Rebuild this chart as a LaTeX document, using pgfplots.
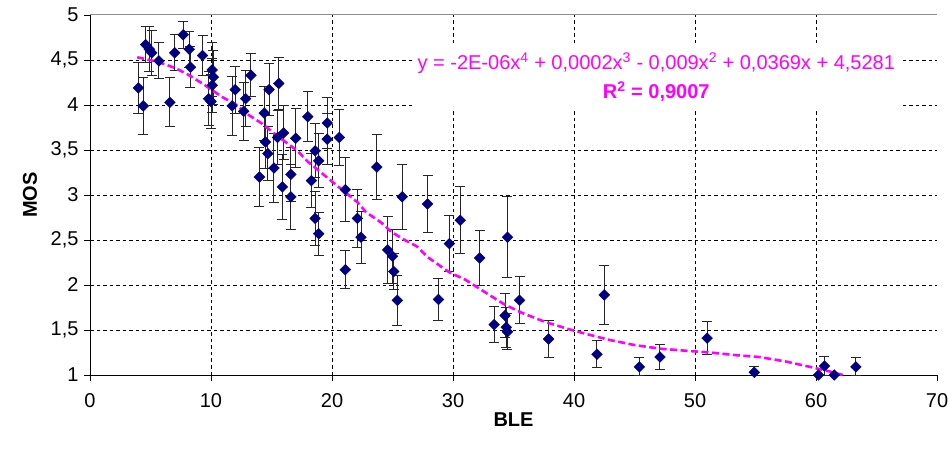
\documentclass[border=0pt]{standalone}
\usepackage{fontspec}
\setmainfont{Liberation Sans}
\usepackage{pgfplots}
\usepackage{pgfplotstable}
\pgfplotsset{compat=1.18}
\definecolor{navyx}{HTML}{000080}
\definecolor{magx}{HTML}{FF00FF}

\pgfplotstableread{
x y e
4.0 4.19 0.28
4.4 3.99 0.32
4.6 4.67 0.20
4.9 4.62 0.25
5.1 4.58 0.25
5.7 4.49 0.20
6.6 4.03 0.27
7.0 4.58 0.20
7.7 4.78 0.15
8.2 4.62 0.20
8.3 4.42 0.23
9.3 4.55 0.22
9.8 4.07 0.30
10.0 4.04 0.30
10.1 4.22 0.30
10.2 4.31 0.30
10.1 4.39 0.30
11.75 3.99 0.33
12.0 4.17 0.26
12.7 3.93 0.32
12.86 4.07 0.31
13.3 4.33 0.24
14.0 3.20 0.33
14.4 3.91 0.30
14.5 3.59 0.30
14.7 3.46 0.30
14.8 4.17 0.29
15.2 3.30 0.38
15.5 3.64 0.30
15.6 4.24 0.29
15.9 3.09 0.36
16.0 3.69 0.30
16.6 3.23 0.30
16.6 2.98 0.36
17.0 3.63 0.33
18.0 3.87 0.28
18.3 3.16 0.30
18.6 3.49 0.30
18.6 2.74 0.30
18.9 3.38 0.30
18.9 2.57 0.24
19.6 3.80 0.28
19.6 3.62 0.28
20.6 3.64 0.31
21.1 3.06 0.36
21.1 2.17 0.21
22.1 2.74 0.32
22.4 2.53 0.29
23.7 3.31 0.36
24.6 2.39 0.37
25.0 2.32 0.30
25.1 2.15 0.20
25.4 1.83 0.28
25.8 2.98 0.36
27.9 2.90 0.32
28.8 1.84 0.23
29.7 2.46 0.31
30.6 2.72 0.37
32.2 2.30 0.31
33.4 1.56 0.20
34.3 1.66 0.24
34.4 1.53 0.22
34.5 1.48 0.20
34.5 2.53 0.45
35.5 1.83 0.26
37.9 1.40 0.20
41.9 1.23 0.15
42.5 1.89 0.33
45.4 1.09 0.10
47.1 1.20 0.14
51.0 1.41 0.18
54.9 1.03 0.06
60.2 1.00 0.00
60.7 1.10 0.10
61.5 1.00 0.00
63.3 1.09 0.10
}\mosdata

\pgfplotstableread{
x y
3.9 4.53
5.6 4.48
7.05 4.41
8.2 4.33
9.5 4.22
10.9 4.09
12.0 4.01
13.1 3.89
14.25 3.79
15.35 3.67
16.45 3.56
17.15 3.49
18.0 3.37
19.0 3.26
19.9 3.16
21.0 3.04
22.1 2.92
22.8 2.81
24.1 2.69
24.9 2.59
26.0 2.50
27.0 2.43
27.9 2.31
29.7 2.14
31.0 2.06
32.4 1.94
34.3 1.78
35.7 1.69
37.6 1.59
39.8 1.50
40.9 1.46
42.9 1.39
45.1 1.33
47.3 1.29
49.2 1.27
51.2 1.25
53.4 1.22
55.3 1.20
57.5 1.15
59.5 1.09
61.1 1.04
62.2 1.00
}\trenddata

\begin{document}
\begin{tikzpicture}
\begin{axis}[
  scale only axis, width=847pt, height=360pt,
  xmin=0, xmax=70, ymin=1, ymax=5,
  axis lines=left,
  axis line style={-, black, line width=1pt},
  xtick={0,70}, ytick={1,5},
  extra x ticks={10,20,30,40,50,60},
  extra y ticks={1.5,2,2.5,3,3.5,4,4.5},
  extra x tick style={grid=major},
  extra y tick style={grid=major},
  major grid style={black, line width=0.8pt, dash pattern=on 3.5pt off 3pt},
  tick align=outside, major tick length=6pt,
  tick style={black, line width=0.8pt},
  /pgf/number format/use comma,
  /pgf/number format/assume math mode=true,
  ticklabel style={font=\fontsize{20}{22}\selectfont, text=black},
  xticklabel style={yshift=-9pt},
  yticklabel style={xshift=-2pt},
  xlabel={BLE}, ylabel={MOS},
  xlabel style={at={(axis description cs:0.5,-0.125)}, anchor=center, font=\bfseries\fontsize{20}{22}\selectfont},
  ylabel style={at={(axis description cs:-0.0708,0.5)}, anchor=center, font=\bfseries\fontsize{20}{22}\selectfont},
]
\draw[black!45, line width=1pt] (rel axis cs:0,1) -- (rel axis cs:1,1);
\addplot[only marks, mark=square*, mark size=3.8pt,
  mark options={fill=navyx, draw=navyx, rotate=45},
  error bars/.cd, y dir=both, y explicit,
  error bar style={black!85, line width=1pt},
  error mark options={rotate=90, mark size=5pt, black!85, line width=1pt}]
  table[x=x, y=y, y error=e] {\mosdata};
\addplot[magx, line width=2.6pt, dash pattern=on 7pt off 3.5pt, no marks] table[x=x, y=y] {\trenddata};
\node[fill=white, text=magx, align=center, inner xsep=6pt, inner ysep=7pt,
  font=\fontsize{20}{29}\selectfont] at (axis cs:46.8,4.31)
  {y = -2E-06x\textsuperscript{4} + 0,0002x\textsuperscript{3} - 0,009x\textsuperscript{2} + 0,0369x + 4,5281\\
   \textbf{R\textsuperscript{2} = 0,9007}};
\end{axis}
\pgfresetboundingbox
\path[use as bounding box] ([xshift=-90pt,yshift=-79pt]current axis.south west) rectangle ([xshift=11pt,yshift=15pt]current axis.north east);
\end{tikzpicture}
\end{document}
